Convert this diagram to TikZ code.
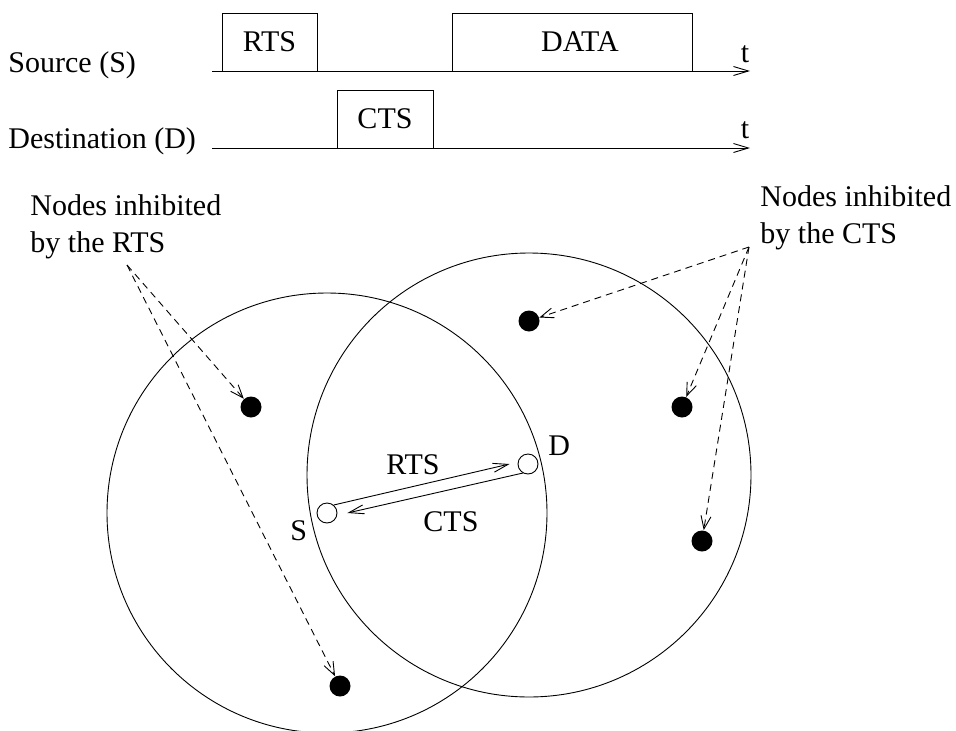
\documentclass[tikz,border=0pt]{standalone}
\usepackage{fontspec}
\setmainfont{Liberation Serif}
\usetikzlibrary{arrows.meta}

\begin{document}
\begin{tikzpicture}[x=1pt, y=-1pt, line width=0.9pt,
            every node/.style={inner sep=0pt, font=\fontsize{30}{37}\selectfont},
            slot/.style={draw, minimum height=58pt},
            host/.style={circle, draw, fill=white, minimum size=20pt},
            other/.style={circle, fill=black, minimum size=21pt},
            tip/.style={-{Straight Barb[length=15pt,width=9pt]}},
            hint/.style={dash pattern=on 7pt off 5pt, -{Straight Barb[length=13pt,width=10pt]}}]

            \useasboundingbox (0,0) rectangle (956,731);

            % time lines
            \node[anchor=base west] (srclabel) at (8,72) {Source (S)};
            \node[anchor=base west] (dstlabel) at (8,148) {Destination (D)};
            \coordinate (s0) at (212,71);
            \coordinate (s1) at (750,71);
            \coordinate (d0) at (212,148);
            \coordinate (d1) at (750,148);
            \draw[tip] (s0) -- (s1);
            \draw[tip] (d0) -- (d1);
            \node[anchor=base] (tsrc) at (745,62) {t};
            \node[anchor=base] (tdst) at (745,138) {t};

            \node[slot, minimum width=95pt] (rtsbox) at (269.5,42) {RTS};
            \node[slot, minimum width=240pt] (databox) at (572,42) {\hspace*{16pt}DATA};
            \node[slot, minimum width=96pt] (ctsbox) at (385,119) {CTS};

            % ranges
            \node[host] (S) at (327,513) {};
            \node[host] (D) at (528,464) {};
            \coordinate (Drange) at (529,475);
            \draw (S.center) circle [radius=220pt];
            \draw (Drange) circle [radius=222pt];
            \node[anchor=base west] (Slabel) at (290,540) {S};
            \node[anchor=base west] (Dlabel) at (548,455) {D};

            \draw[tip] (S.50) -- ([xshift=-8pt]D.west);
            \draw[tip] (D.240) -- ([xshift=10pt]S.east);
            \node[anchor=base west] (rtsmsg) at (386,474) {RTS};
            \node[anchor=base west] (ctsmsg) at (423,531) {CTS};

            % inhibited nodes
            \node[other] (n1) at (251,407) {};
            \node[other] (n2) at (340,686) {};
            \node[other] (n3) at (529,321) {};
            \node[other] (n4) at (682,407) {};
            \node[other] (n5) at (702,541) {};

            \node[anchor=base west, align=left] (rtsnote) at (30,252) {Nodes inhibited\\by the RTS};
            \node[anchor=base west, align=left] (ctsnote) at (760,243) {Nodes inhibited\\by the CTS};
            \coordinate (rtsfoot) at (127,265);
            \coordinate (ctsfoot) at (749,247);
            \draw[hint] (rtsfoot) -- (n1);
            \draw[hint] (rtsfoot) -- (n2);
            \draw[hint] (ctsfoot) -- (n3);
            \draw[hint] (ctsfoot) -- (n4);
            \draw[hint] (ctsfoot) -- (n5);
\end{tikzpicture}
\end{document}
